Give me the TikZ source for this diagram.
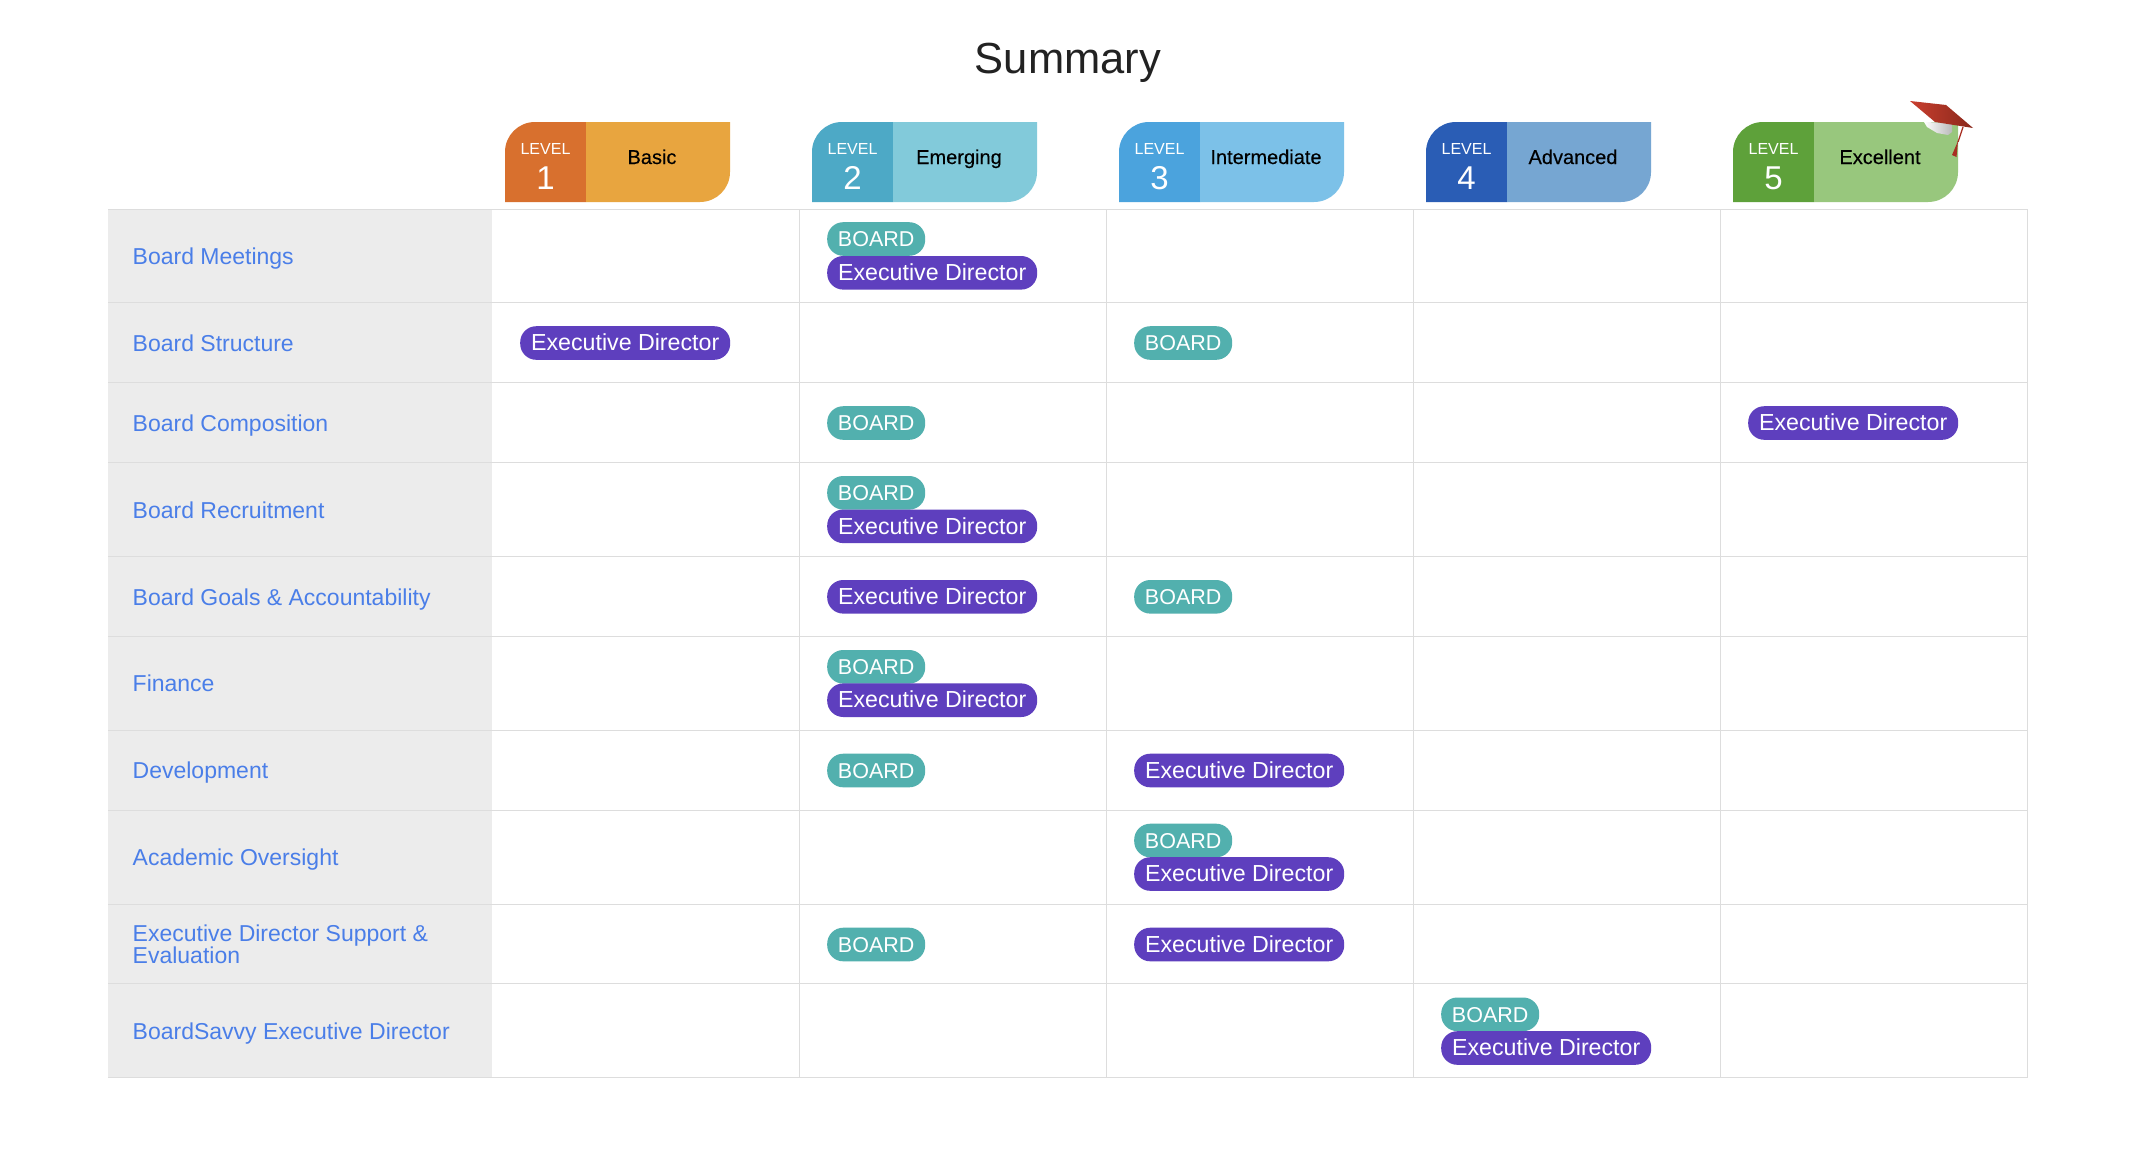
\documentclass[tikz,border=0pt]{standalone}
\usepackage{fontspec}
\setmainfont{Liberation Sans}
\newfontfamily\medfont[FakeBold=0.25]{Liberation Sans}
\definecolor{tealpill}{HTML}{52B0AE}
\definecolor{purplepill}{HTML}{5E3FBE}
\definecolor{linkblue}{HTML}{4A7EE8}
\definecolor{labelgray}{HTML}{ECECEC}
\definecolor{gridline}{HTML}{DDDDDD}
\definecolor{titleink}{HTML}{222222}
\definecolor{aA}{HTML}{D8702E}\definecolor{aB}{HTML}{E8A53F}
\definecolor{bA}{HTML}{4DA9C6}\definecolor{bB}{HTML}{82CADA}
\definecolor{cA}{HTML}{4BA3DD}\definecolor{cB}{HTML}{7CC1E8}
\definecolor{dA}{HTML}{2A5DB5}\definecolor{dB}{HTML}{76A6D2}
\definecolor{eA}{HTML}{5EA13A}\definecolor{eB}{HTML}{98C77D}
\definecolor{capL}{HTML}{C93F2F}\definecolor{capR}{HTML}{8A281B}
\definecolor{capT}{HTML}{A82E22}
\tikzset{
  pillbase/.style={anchor=west,text=white,inner sep=0pt,minimum height=33.6pt,text height=19.5pt,text depth=4pt,rounded corners=16pt,align=center},
  boardpill/.style={pillbase,fill=tealpill,minimum width=98pt,font=\fontsize{21.5}{26}\selectfont},
  edpill/.style={pillbase,fill=purplepill,minimum width=210pt,font=\fontsize{23.2}{26}\selectfont},
  rowlabel/.style={anchor=base west,text=linkblue,inner sep=0pt,align=left,font=\fontsize{23}{22}\selectfont},
  levelword/.style={anchor=base,text=white,inner sep=0pt,font=\fontsize{16}{18}\selectfont},
  levelnum/.style={anchor=base,text=white,inner sep=0pt,font=\fontsize{33}{36}\selectfont},
  levelname/.style={anchor=base,text=black,inner sep=0pt,font=\medfont\fontsize{20}{24}\selectfont},
  grid/.style={gridline,line width=1.2pt}
}
\newcommand{\levelbadge}[6]{%
  \fill[#2] (#1,202) -- (#1,152) .. controls (#1,135.4) and (#1+13.4,122) .. (#1+30,122) -- (#1+81,122) -- (#1+81,202) -- cycle;
  \fill[#3] (#1+81,122) -- (#1+225,122) -- (#1+225,172) .. controls (#1+225,188.6) and (#1+211.6,202) .. (#1+195,202) -- (#1+81,202) -- cycle;
  \node[levelword] (w#6) at (#1+40.5,154.7) {LEVEL};
  \node[levelnum] (n#6) at (#1+40.5,189) {#4};
  \node[levelname] (t#6) at (#1+147,164) {#5};
}
\newcommand{\bp}[3]{\node[boardpill] (#3) at (#1,#2) {BOARD};}
\newcommand{\ep}[3]{\node[edpill] (#3) at (#1,#2) {Executive Director};}
\begin{document}
\begin{tikzpicture}[x=1pt,y=-1pt]
\useasboundingbox (0,0) rectangle (2140,1164);
\fill[white] (0,0) rectangle (2140,1164);
\node[anchor=base,inner sep=0pt,text=titleink,font=\fontsize{43.5}{48}\selectfont] (title) at (1068,74) {Summary};
\levelbadge{505}{aA}{aB}{1}{Basic}{a}
\levelbadge{812}{bA}{bB}{2}{Emerging}{b}
\levelbadge{1119}{cA}{cB}{3}{Intermediate}{c}
\levelbadge{1426}{dA}{dB}{4}{Advanced}{d}
\levelbadge{1733}{eA}{eB}{5}{Excellent}{e}
% label column
\fill[labelgray] (108,209) rectangle (492,1078);
% grid
\foreach \y in {209.3,302.3,382.7,462.7,556.3,636.3,730.3,810.3,904.3,983.7,1077.7}
  \draw[grid] (108,\y) -- (2027,\y);
\foreach \x in {799.3,1106.3,1413.3,1720.3,2027.3}
  \draw[grid] (\x,209.3) -- (\x,1077.7);
% row labels
\node[rowlabel] (r1) at (132.5,264) {Board Meetings};
\node[rowlabel] (r2) at (132.5,351) {Board Structure};
\node[rowlabel] (r3) at (132.5,431) {Board Composition};
\node[rowlabel] (r4) at (132.5,518) {Board Recruitment};
\node[rowlabel] (r5) at (132.5,605) {Board Goals \& Accountability};
\node[rowlabel] (r6) at (132.5,691.5) {Finance};
\node[rowlabel] (r7) at (132.5,778.3) {Development};
\node[rowlabel] (r8) at (132.5,865.4) {Academic Oversight};
\node[rowlabel] (r9) at (132.5,963.5) {Executive Director Support \&\\Evaluation};
\node[rowlabel] (r10) at (132.5,1039) {BoardSavvy Executive Director};
% pills
\bp{827}{239}{p1}\ep{827}{272.8}{p2}
\ep{520}{343}{p3}\bp{1134}{343}{p4}
\bp{827}{423}{p5}\ep{1748}{423}{p6}
\bp{827}{492.8}{p7}\ep{827}{526.3}{p8}
\ep{827}{596.8}{p9}\bp{1134}{596.8}{p10}
\bp{827}{666.8}{p11}\ep{827}{700.2}{p12}
\bp{827}{770.5}{p13}\ep{1134}{770.5}{p14}
\bp{1134}{840.5}{p15}\ep{1134}{874}{p16}
\bp{827}{944.5}{p17}\ep{1134}{944.5}{p18}
\bp{1441}{1014.3}{p19}\ep{1441}{1048}{p20}
% mortarboard
\shade[left color=white,right color=gray!55] (1924,122) -- (1927,127) -- (1937,133) -- (1948,135) -- (1952,132) -- (1952,123) -- cycle;
\shade[left color=capL,right color=capR] (1910,101) -- (1946,105) -- (1973,128) -- (1935,122) -- cycle;
\draw[capT,line width=1.3pt] (1963,127) -- (1958,142);
\fill[capT] (1958,141) -- (1952,155) -- (1956.5,157) -- cycle;
\end{tikzpicture}
\end{document}
